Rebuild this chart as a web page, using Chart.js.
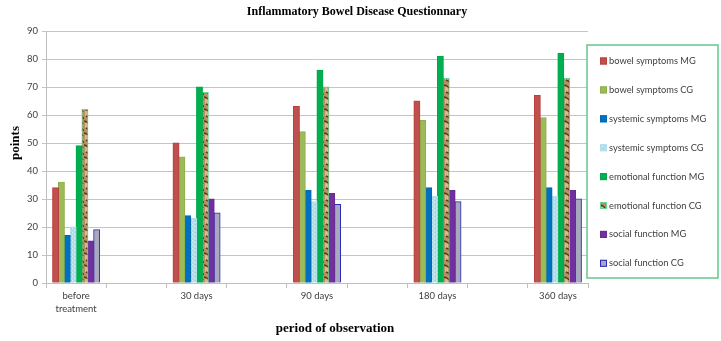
<!DOCTYPE html>
<html>
<head>
<meta charset="utf-8">
<script src="https://cdn.jsdelivr.net/npm/chart.js@4/dist/chart.umd.min.js"></script>
<style>
  body { margin: 0; background: #fff; }
</style>
</head>
<body>
<canvas id="grafico" width="721" height="341"></canvas>
<script>
// dados
var periodos = [['before', 'treatment'], '30 days', '90 days', '180 days', '360 days'];
var bowelMG = [34, 50, 63, 65, 67];
var bowelCG = [36, 45, 54, 58, 59];
var systemicMG = [17, 24, 33, 34, 34];
var systemicCG = [20, 23, 29, 31, 31];
var emotionalMG = [49, 70, 76, 81, 82];
var emotionalCG = [62, 68, 70, 73, 73];
var socialMG = [15, 30, 32, 33, 33];
var socialCG = [19, 25, 28, 29, 30];
var yTicks = [0, 10, 20, 30, 40, 50, 60, 70, 80, 90];

// o eixo x original tem uma categoria vazia entre cada período
function espacar(arr, vazio) {
    var out = [];
    for (var i = 0; i < arr.length; i++) {
        if (i > 0) out.push(vazio);
        out.push(arr[i]);
    }
    return out;
}

// texturas (papiro marrom e azul claro pontilhado)
function padraoPapiro() {
    var c = document.createElement('canvas');
    c.width = 6; c.height = 12;
    var g = c.getContext('2d');
    g.fillStyle = '#b98f64';
    g.fillRect(0, 0, 6, 12);
    g.fillStyle = '#d6b88e';
    g.fillRect(1, 3, 3, 5);
    g.strokeStyle = '#5a3a1d';
    g.lineWidth = 1.4;
    g.beginPath();
    g.moveTo(0, 1); g.quadraticCurveTo(4, 2, 5, 4);
    g.moveTo(2, 8); g.quadraticCurveTo(5, 9, 6, 11);
    g.stroke();
    return g.createPattern(c, 'repeat');
}
function padraoAzul() {
    var c = document.createElement('canvas');
    c.width = 4; c.height = 4;
    var g = c.getContext('2d');
    g.fillStyle = '#ade0ef';
    g.fillRect(0, 0, 4, 4);
    g.fillStyle = '#dcf2f8';
    g.fillRect(0, 0, 1, 1);
    g.fillRect(2, 2, 1, 1);
    g.fillStyle = '#8fcde2';
    g.fillRect(3, 0, 1, 1);
    return g.createPattern(c, 'repeat');
}

var series = [
    { label: 'bowel symptoms MG', data: bowelMG, bg: '#c0504d', bd: '#b8403d' },
    { label: 'bowel symptoms CG', data: bowelCG, bg: '#9bbb59', bd: '#8eae4c' },
    { label: 'systemic symptoms MG', data: systemicMG, bg: '#0070c0', bd: '#0068b4' },
    { label: 'systemic symptoms CG', data: systemicCG, bg: padraoAzul(), bd: '#b2e0ee' },
    { label: 'emotional function MG', data: emotionalMG, bg: '#00b050', bd: '#00a84a' },
    { label: 'emotional function CG', data: emotionalCG, bg: padraoPapiro(), bd: '#6fd392' },
    { label: 'social function MG', data: socialMG, bg: '#7030a0', bd: '#682c96' },
    { label: 'social function CG', data: socialCG, bg: '#a8a8be', bd: '#2a2ab8' }
];

var datasets = series.map(function (s) {
    return {
        label: s.label,
        data: espacar(s.data, null),
        backgroundColor: s.bg,
        borderColor: s.bd,
        borderWidth: 1,
        inflateAmount: 0.5,
        categoryPercentage: 0.78,
        barPercentage: 1
    };
});

// títulos e legenda com caixa desenhados à mão
var extras = {
    id: 'extras',
    afterDraw: function (chart) {
        var ctx = chart.ctx;
        ctx.save();
        ctx.fillStyle = '#000';
        ctx.textAlign = 'center';
        ctx.textBaseline = 'middle';
        ctx.font = 'bold 12px "Liberation Serif"';
        ctx.fillText('Inflammatory Bowel Disease Questionnary', 357, 12);
        ctx.font = 'bold 13px "Liberation Serif"';
        ctx.fillText('period of observation', 335, 329);
        ctx.translate(16, 143);
        ctx.rotate(-Math.PI / 2);
        ctx.fillText('points', 0, 0);
        ctx.restore();

        // legenda
        ctx.save();
        ctx.fillStyle = '#fff';
        ctx.fillRect(587, 45, 131, 233);
        ctx.strokeStyle = '#63c78d';
        ctx.lineWidth = 1.5;
        ctx.strokeRect(587, 45, 131, 233);
        ctx.font = '9.3px Lato';
        ctx.textAlign = 'left';
        ctx.textBaseline = 'middle';
        chart.data.datasets.forEach(function (ds, i) {
            var y = 61 + i * 28.9;
            ctx.fillStyle = ds.backgroundColor;
            ctx.fillRect(600, y - 3.5, 7, 7);
            ctx.strokeStyle = ds.borderColor;
            ctx.lineWidth = 1;
            ctx.strokeRect(600.5, y - 3, 6, 6);
            ctx.fillStyle = '#404040';
            ctx.fillText(ds.label, 609, y);
        });
        ctx.restore();
    }
};

new Chart(document.getElementById('grafico'), {
    type: 'bar',
    data: {
        labels: espacar(periodos, ''),
        datasets: datasets
    },
    options: {
        responsive: false,
        animation: false,
        devicePixelRatio: 1,
        layout: { padding: { left: 26, right: 133, top: 31, bottom: 18 } },
        plugins: {
            legend: { display: false },
            title: { display: false },
            tooltip: { enabled: false }
        },
        scales: {
            x: {
                grid: { drawOnChartArea: false, drawTicks: true, tickLength: 5, color: '#bfbfbf', offset: true },
                border: { color: '#bfbfbf' },
                ticks: {
                    autoSkip: false, maxRotation: 0, padding: 2,
                    color: '#404040', font: { family: 'Lato', size: 9.5, lineHeight: 1.35 }
                },
                afterFit: function (scale) { scale.height = 40; }
            },
            y: {
                min: 0, max: 90,
                afterBuildTicks: function (scale) {
                    scale.ticks = yTicks.map(function (v) { return { value: v }; });
                },
                grid: { color: '#c4c4c4', tickLength: 4 },
                border: { color: '#bfbfbf' },
                ticks: { padding: 4, color: '#404040', font: { family: 'Lato', size: 9.5 } },
                afterFit: function (scale) { scale.width = 20; }
            }
        }
    },
    plugins: [extras]
});
</script>
</body>
</html>
